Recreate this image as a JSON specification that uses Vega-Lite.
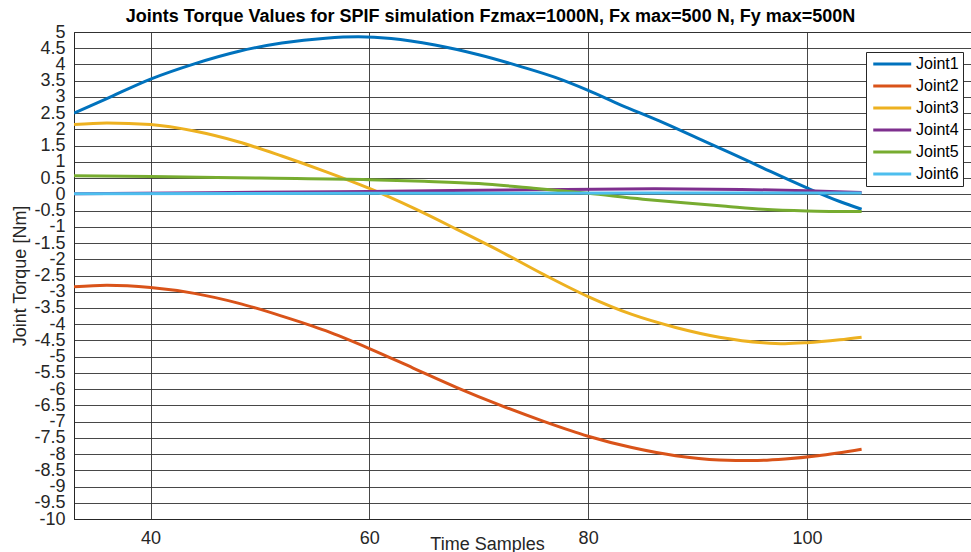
{
  "$schema": "https://vega.github.io/schema/vega-lite/v6.json",
  "autosize": "none",
  "width": 897,
  "height": 487,
  "padding": {"left": 74, "top": 32, "right": 0, "bottom": 33},
  "background": "white",
  "config": {
    "font": "Liberation Sans",
    "view": {"stroke": "#262626", "strokeWidth": 1}
  },
  "title": {
    "text": "Joints Torque Values for SPIF simulation Fzmax=1000N, Fx max=500 N, Fy max=500N",
    "font": "Liberation Sans",
    "fontSize": 18,
    "fontWeight": "bold",
    "color": "#000000",
    "anchor": "middle",
    "frame": "group",
    "dx": -32,
    "offset": -3
  },
  "data": {
    "values": [
      {"x": 33, "y": 2.5, "joint": "Joint1"},
      {"x": 36, "y": 2.95, "joint": "Joint1"},
      {"x": 40, "y": 3.55, "joint": "Joint1"},
      {"x": 44, "y": 4.02, "joint": "Joint1"},
      {"x": 48, "y": 4.4, "joint": "Joint1"},
      {"x": 52, "y": 4.66, "joint": "Joint1"},
      {"x": 56, "y": 4.81, "joint": "Joint1"},
      {"x": 59, "y": 4.85, "joint": "Joint1"},
      {"x": 62, "y": 4.8, "joint": "Joint1"},
      {"x": 66, "y": 4.6, "joint": "Joint1"},
      {"x": 70, "y": 4.3, "joint": "Joint1"},
      {"x": 74, "y": 3.92, "joint": "Joint1"},
      {"x": 77, "y": 3.6, "joint": "Joint1"},
      {"x": 80, "y": 3.2, "joint": "Joint1"},
      {"x": 83, "y": 2.75, "joint": "Joint1"},
      {"x": 86.5, "y": 2.26, "joint": "Joint1"},
      {"x": 90, "y": 1.73, "joint": "Joint1"},
      {"x": 93, "y": 1.28, "joint": "Joint1"},
      {"x": 96, "y": 0.81, "joint": "Joint1"},
      {"x": 100, "y": 0.2, "joint": "Joint1"},
      {"x": 103, "y": -0.22, "joint": "Joint1"},
      {"x": 105, "y": -0.46, "joint": "Joint1"},

      {"x": 33, "y": -2.85, "joint": "Joint2"},
      {"x": 36, "y": -2.8, "joint": "Joint2"},
      {"x": 40, "y": -2.87, "joint": "Joint2"},
      {"x": 44, "y": -3.05, "joint": "Joint2"},
      {"x": 48, "y": -3.35, "joint": "Joint2"},
      {"x": 52, "y": -3.75, "joint": "Joint2"},
      {"x": 56, "y": -4.2, "joint": "Joint2"},
      {"x": 60, "y": -4.75, "joint": "Joint2"},
      {"x": 64, "y": -5.35, "joint": "Joint2"},
      {"x": 68, "y": -5.95, "joint": "Joint2"},
      {"x": 72, "y": -6.5, "joint": "Joint2"},
      {"x": 76, "y": -7.0, "joint": "Joint2"},
      {"x": 80, "y": -7.45, "joint": "Joint2"},
      {"x": 84, "y": -7.8, "joint": "Joint2"},
      {"x": 88, "y": -8.05, "joint": "Joint2"},
      {"x": 92, "y": -8.18, "joint": "Joint2"},
      {"x": 95, "y": -8.2, "joint": "Joint2"},
      {"x": 98, "y": -8.15, "joint": "Joint2"},
      {"x": 101, "y": -8.05, "joint": "Joint2"},
      {"x": 105, "y": -7.85, "joint": "Joint2"},

      {"x": 33, "y": 2.15, "joint": "Joint3"},
      {"x": 36, "y": 2.2, "joint": "Joint3"},
      {"x": 40, "y": 2.15, "joint": "Joint3"},
      {"x": 44, "y": 1.95, "joint": "Joint3"},
      {"x": 48, "y": 1.62, "joint": "Joint3"},
      {"x": 52, "y": 1.18, "joint": "Joint3"},
      {"x": 56, "y": 0.7, "joint": "Joint3"},
      {"x": 60, "y": 0.18, "joint": "Joint3"},
      {"x": 64, "y": -0.42, "joint": "Joint3"},
      {"x": 68, "y": -1.08, "joint": "Joint3"},
      {"x": 72, "y": -1.76, "joint": "Joint3"},
      {"x": 76, "y": -2.48, "joint": "Joint3"},
      {"x": 80, "y": -3.15, "joint": "Joint3"},
      {"x": 84, "y": -3.7, "joint": "Joint3"},
      {"x": 88, "y": -4.1, "joint": "Joint3"},
      {"x": 92, "y": -4.4, "joint": "Joint3"},
      {"x": 96, "y": -4.57, "joint": "Joint3"},
      {"x": 98, "y": -4.6, "joint": "Joint3"},
      {"x": 100, "y": -4.57, "joint": "Joint3"},
      {"x": 103, "y": -4.48, "joint": "Joint3"},
      {"x": 105, "y": -4.4, "joint": "Joint3"},

      {"x": 33, "y": 0.02, "joint": "Joint4"},
      {"x": 45, "y": 0.05, "joint": "Joint4"},
      {"x": 60, "y": 0.09, "joint": "Joint4"},
      {"x": 75, "y": 0.14, "joint": "Joint4"},
      {"x": 86, "y": 0.17, "joint": "Joint4"},
      {"x": 94, "y": 0.15, "joint": "Joint4"},
      {"x": 100, "y": 0.11, "joint": "Joint4"},
      {"x": 105, "y": 0.06, "joint": "Joint4"},

      {"x": 33, "y": 0.57, "joint": "Joint5"},
      {"x": 40, "y": 0.55, "joint": "Joint5"},
      {"x": 50, "y": 0.5, "joint": "Joint5"},
      {"x": 60, "y": 0.45, "joint": "Joint5"},
      {"x": 65, "y": 0.4, "joint": "Joint5"},
      {"x": 70, "y": 0.33, "joint": "Joint5"},
      {"x": 75, "y": 0.19, "joint": "Joint5"},
      {"x": 80, "y": 0.03, "joint": "Joint5"},
      {"x": 85, "y": -0.15, "joint": "Joint5"},
      {"x": 89, "y": -0.27, "joint": "Joint5"},
      {"x": 92.6, "y": -0.37, "joint": "Joint5"},
      {"x": 96, "y": -0.46, "joint": "Joint5"},
      {"x": 100, "y": -0.51, "joint": "Joint5"},
      {"x": 105, "y": -0.53, "joint": "Joint5"},

      {"x": 33, "y": 0.02, "joint": "Joint6"},
      {"x": 60, "y": 0.03, "joint": "Joint6"},
      {"x": 85, "y": 0.04, "joint": "Joint6"},
      {"x": 105, "y": 0.04, "joint": "Joint6"}
    ]
  },
  "mark": {"type": "line", "strokeWidth": 3, "interpolate": "monotone", "clip": true},
  "encoding": {
    "x": {
      "field": "x",
      "type": "quantitative",
      "scale": {"domain": [33, 115], "nice": false, "zero": false},
      "axis": {
        "values": [40, 60, 80, 100],
        "title": "Time Samples",
        "titleFont": "Liberation Sans",
        "titleFontSize": 18,
        "titleFontWeight": "normal",
        "titleColor": "#262626",
        "titleX": 413,
        "titleY": 30,
        "titleBaseline": "alphabetic",
        "labelFont": "Liberation Sans",
        "labelFontSize": 18,
        "labelColor": "#262626",
        "labelPadding": 10,
        "ticks": false,
        "domain": true,
        "domainColor": "#262626",
        "grid": true,
        "gridColor": "#333333",
        "gridWidth": 1,
        "gridOpacity": 0.9
      }
    },
    "y": {
      "field": "y",
      "type": "quantitative",
      "scale": {"domain": [-10, 5], "nice": false, "zero": false},
      "axis": {
        "values": [-10, -9.5, -9, -8.5, -8, -7.5, -7, -6.5, -6, -5.5, -5, -4.5, -4, -3.5, -3, -2.5, -2, -1.5, -1, -0.5, 0, 0.5, 1, 1.5, 2, 2.5, 3, 3.5, 4, 4.5, 5],
        "labelExpr": "'' + datum.value",
        "title": "Joint Torque [Nm]",
        "titleFont": "Liberation Sans",
        "titleFontSize": 18,
        "titleFontWeight": "normal",
        "titleColor": "#262626",
        "titleX": -45,
        "labelFont": "Liberation Sans",
        "labelFontSize": 18,
        "labelColor": "#262626",
        "labelPadding": 9,
        "labelOverlap": false,
        "labelBound": false,
        "labelFlush": false,
        "ticks": false,
        "domain": true,
        "domainColor": "#262626",
        "grid": true,
        "gridColor": "#333333",
        "gridWidth": 1,
        "gridOpacity": 0.9
      }
    },
    "color": {
      "field": "joint",
      "type": "nominal",
      "scale": {
        "domain": ["Joint1", "Joint2", "Joint3", "Joint4", "Joint5", "Joint6"],
        "range": ["#0072BD", "#D95319", "#EDB120", "#7E2F8E", "#77AC30", "#4DBEEE"]
      },
      "legend": {
        "title": null,
        "orient": "none",
        "legendX": 792,
        "legendY": 20,
        "symbolType": "M-1,0H7",
        "symbolSize": 90,
        "symbolStrokeWidth": 3,
        "labelFont": "Liberation Sans",
        "labelFontSize": 16,
        "labelColor": "#000000",
        "labelOffset": 30,
        "rowPadding": 6,
        "padding": 4,
        "fillColor": "white",
        "strokeColor": "#262626",
        "cornerRadius": 0
      }
    },
    "order": {"field": "x", "type": "quantitative"}
  }
}
